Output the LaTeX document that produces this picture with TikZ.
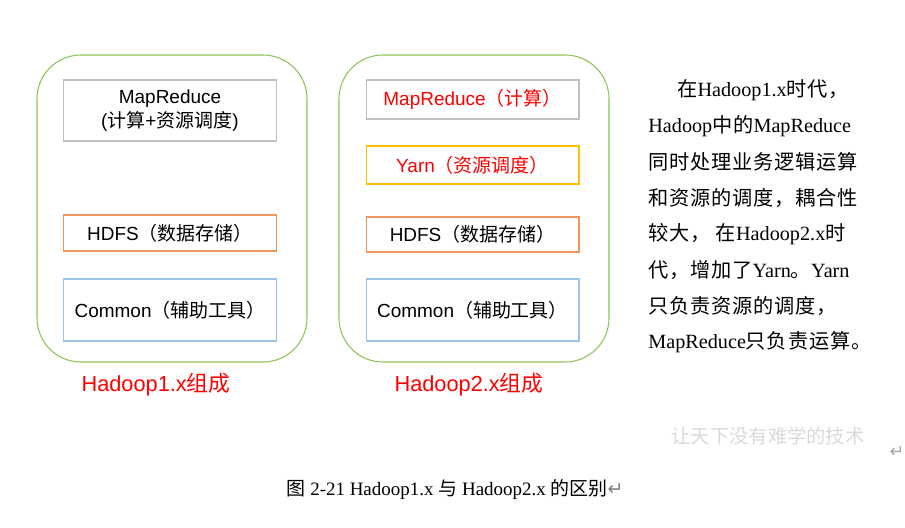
\documentclass[tikz,border=0pt]{standalone}
\usepackage{fontspec}
\setmainfont{Liberation Sans}
\newfontfamily\cjk{Noto Sans CJK SC}
\newfontfamily\cjkwide[LetterSpace=4]{Noto Sans CJK SC}
\newfontfamily\timesfont{Liberation Serif}
\newfontfamily\symfont{DejaVu Sans}
\newcommand\zh[1]{{\cjk #1}}
\newcommand\zhw[1]{{\cjkwide #1}}
\definecolor{framegreen}{RGB}{140,195,85}
\definecolor{boxgray}{RGB}{191,191,191}
\definecolor{boxorange}{RGB}{241,150,90}
\definecolor{boxyellow}{RGB}{255,192,0}
\definecolor{boxblue}{RGB}{157,195,230}

\begin{document}
\begin{tikzpicture}[x=0.02cm, y=-0.02cm,
  frame/.style={draw=framegreen, line width=0.6pt, rounded corners=25pt},
  part/.style={draw, line width=0.6pt, minimum width=4.26cm, inner sep=0pt, align=center,
    font=\fontsize{10.8}{13.6}\selectfont},
  title/.style={red, font=\fontsize{12.4}{14}\selectfont},
  note/.style={anchor=west, inner sep=0pt, font=\timesfont\fontsize{11.5}{14}\selectfont}]
  \useasboundingbox (0,0) rectangle (905,527);

  % Hadoop1.x
  \draw[frame] (37,55) rectangle (307,362);
  \node[part, draw=boxgray, minimum height=1.22cm] (mr1) at (170,110.5) {MapReduce\\(\zh{计算}+\zh{资源调度})};
  \node[part, draw=boxorange, minimum height=0.72cm] (hdfs1) at (170,233) {HDFS\zh{（数据存储）}};
  \node[part, draw=boxblue, minimum height=1.24cm] (common1) at (170,310) {Common\zh{（辅助工具）}};
  \node[title] (name1) at (156,385) {Hadoop1.x\zh{组成}};

  % Hadoop2.x
  \draw[frame] (339,55) rectangle (609,362);
  \node[part, draw=boxgray, minimum height=0.78cm, text=red] (mr2) at (472.5,99.5) {MapReduce\zh{（计算）}};
  \node[part, draw=boxyellow, minimum height=0.76cm, text=red] (yarn2) at (472.5,165) {Yarn\zh{（资源调度）}};
  \node[part, draw=boxorange, minimum height=0.7cm] (hdfs2) at (472.5,234.5) {HDFS\zh{（数据存储）}};
  \node[part, draw=boxblue, minimum height=1.24cm] (common2) at (472.5,310) {Common\zh{（辅助工具）}};
  \node[title] (name2) at (469,385) {Hadoop2.x\zh{组成}};

  % notes
  \node[note] (note1) at (677,90) {\zhw{在}Hadoop1.x\zhw{时代，}};
  \foreach \txt [count=\i from 2] in {Hadoop\zhw{中的}MapReduce, \zhw{同时处理业务逻辑运算},
      \zhw{和资源的调度，耦合性}, \zhw{较大， 在}Hadoop2.x\zhw{时}, \zhw{代，增加了}Yarn\zhw{。}Yarn,
      \zhw{只负责资源的调度，}, MapReduce\zhw{只负责运算。}}
    \node[note] (note\i) at (648,{54+36*\i}) {\txt};

  % watermark
  \node[text=gray!30, font=\cjk\fontsize{11}{13}\selectfont] (mark) at (768,436) {让天下没有难学的技术};
  \node[text=gray!70, font=\symfont\fontsize{10}{12}\selectfont] (ret) at (897,452) {↵};

  % caption
  \node[font=\timesfont\fontsize{10.8}{13}\selectfont] (caption) at (455,490)
    {\zh{图} 2-21 Hadoop1.x \zh{与} Hadoop2.x \zh{的区别}{\symfont\color{gray}↵}};
\end{tikzpicture}
\end{document}
